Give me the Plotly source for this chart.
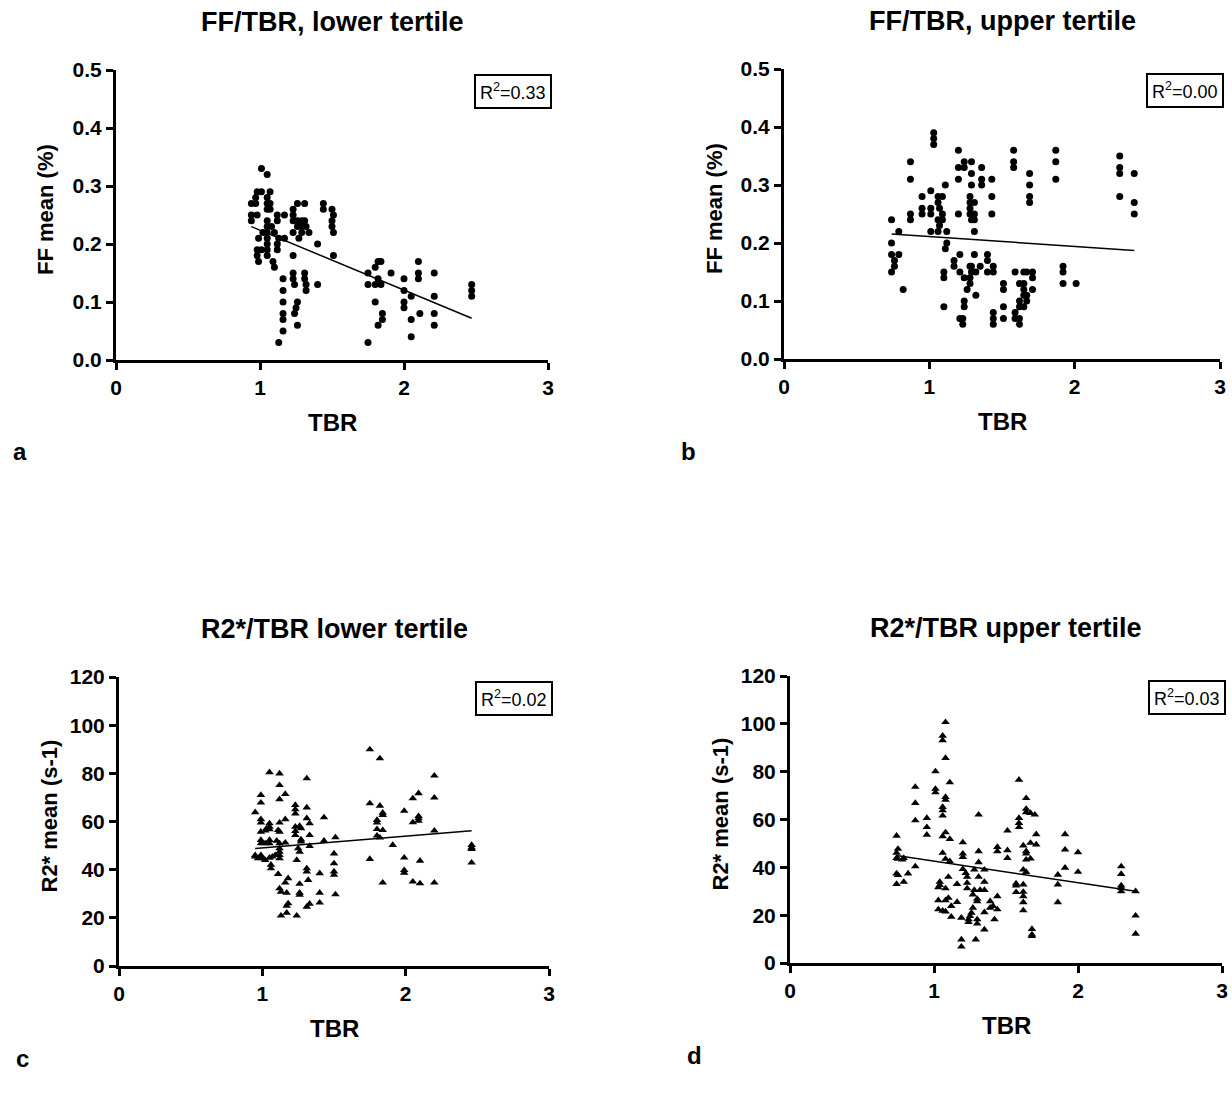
import plotly.graph_objects as go

W, H = 1232, 1099

# ---------------- data ----------------
a_x = [1.01, 1.05, 0.98, 1.01, 1.07, 0.97, 1.05, 0.94, 0.97, 1.05, 1.07, 1.07, 1.05, 1.12, 1.17,
       0.94, 0.98, 0.94, 1.05, 1.12, 1.05, 1.08, 1.02, 1.05, 1.10, 0.99, 1.05, 1.13, 1.17,
       1.05, 1.12, 0.98, 1.01, 1.05, 1.12, 0.98, 1.05, 0.99, 1.09, 1.10,
       1.23, 1.26, 1.31, 1.23, 1.23, 1.26, 1.29, 1.31, 1.26, 1.29, 1.32, 1.23, 1.29, 1.34, 1.27,
       1.44, 1.44, 1.50, 1.51, 1.50, 1.50, 1.51, 1.40, 1.51, 1.23,
       1.16, 1.23, 1.23, 1.24, 1.31, 1.31, 1.32, 1.32, 1.40, 1.16,
       1.16, 1.16, 1.16, 1.16, 1.13, 1.26, 1.25, 1.24, 1.26,
       1.75, 1.75, 1.80, 1.80, 1.80, 1.82, 1.84, 1.82, 1.84, 1.85, 1.85, 1.82, 1.75,
       1.91, 2.00, 2.00, 2.00, 2.00, 2.05, 2.05, 2.05, 2.11, 2.10, 2.10, 2.10,
       2.21, 2.21, 2.21, 2.21, 2.47, 2.47, 2.47]
a_y = [0.33, 0.32, 0.29, 0.29, 0.29, 0.28, 0.28, 0.27, 0.27, 0.27, 0.27, 0.26, 0.26, 0.25, 0.25,
       0.25, 0.25, 0.24, 0.24, 0.24, 0.23, 0.23, 0.22, 0.22, 0.22, 0.21, 0.21, 0.21, 0.21,
       0.20, 0.20, 0.19, 0.19, 0.19, 0.19, 0.18, 0.18, 0.17, 0.17, 0.16,
       0.26, 0.27, 0.27, 0.25, 0.24, 0.24, 0.24, 0.24, 0.23, 0.23, 0.23, 0.22, 0.22, 0.22, 0.21,
       0.27, 0.26, 0.26, 0.25, 0.24, 0.23, 0.22, 0.20, 0.18, 0.18,
       0.14, 0.15, 0.14, 0.13, 0.15, 0.14, 0.13, 0.12, 0.13, 0.12,
       0.10, 0.08, 0.07, 0.05, 0.03, 0.10, 0.09, 0.08, 0.06,
       0.15, 0.13, 0.16, 0.13, 0.10, 0.17, 0.17, 0.14, 0.13, 0.08, 0.07, 0.06, 0.03,
       0.15, 0.14, 0.12, 0.10, 0.09, 0.11, 0.07, 0.04, 0.08, 0.17, 0.15, 0.14,
       0.15, 0.11, 0.08, 0.06, 0.13, 0.12, 0.11]
a_fit_x = [0.94, 2.47]
a_fit_y = [0.230, 0.072]

b_x = [0.74, 0.74, 0.74, 0.74, 0.79, 0.79, 0.76, 0.76, 0.82,
       0.87, 0.87, 0.87, 0.87, 0.95, 0.95, 0.95, 1.01, 1.01, 1.01, 1.01,
       1.03, 1.03, 1.03, 1.06, 1.09, 1.06, 1.07, 1.09, 1.06, 1.09, 1.07, 1.06, 1.12, 1.11,
       1.12, 1.11, 1.10, 1.10, 1.10, 1.20, 1.20, 1.20, 1.20,
       1.24, 1.24, 1.29, 1.29, 1.29, 1.36, 1.36, 1.36, 1.43, 1.43, 1.43,
       1.28, 1.28, 1.31, 1.28, 1.28, 1.31, 1.29, 1.31, 1.31,
       1.17, 1.17, 1.21, 1.21, 1.24, 1.28, 1.28, 1.26, 1.31, 1.29, 1.28, 1.32, 1.29, 1.35,
       1.40, 1.40, 1.40, 1.44, 1.44,
       1.32, 1.24, 1.24, 1.21, 1.23, 1.23, 1.51, 1.51, 1.51, 1.51, 1.44, 1.44, 1.44,
       1.58, 1.58, 1.58, 1.69, 1.69, 1.69, 1.69, 1.87, 1.87, 1.87,
       2.31, 2.31, 2.31, 2.31, 2.41, 2.41, 2.41,
       1.59, 1.65, 1.67, 1.71, 1.71, 1.62, 1.65, 1.65, 1.71, 1.67, 1.65, 1.67, 1.62, 1.62, 1.65,
       1.59, 1.59, 1.62, 1.62, 1.92, 1.92, 1.92, 2.01]
b_y = [0.24, 0.20, 0.18, 0.15, 0.22, 0.18, 0.17, 0.16, 0.12,
       0.34, 0.31, 0.25, 0.24, 0.28, 0.26, 0.25, 0.29, 0.26, 0.25, 0.22,
       0.39, 0.38, 0.37, 0.28, 0.28, 0.27, 0.26, 0.25, 0.24, 0.24, 0.23, 0.22, 0.22, 0.30,
       0.20, 0.19, 0.15, 0.14, 0.09, 0.36, 0.33, 0.31, 0.25,
       0.34, 0.33, 0.34, 0.32, 0.30, 0.33, 0.31, 0.30, 0.31, 0.28, 0.25,
       0.28, 0.27, 0.27, 0.26, 0.25, 0.25, 0.24, 0.24, 0.22,
       0.17, 0.16, 0.18, 0.15, 0.14, 0.14, 0.13, 0.12, 0.18, 0.16, 0.16, 0.15, 0.15, 0.16,
       0.18, 0.17, 0.15, 0.16, 0.15,
       0.11, 0.10, 0.09, 0.07, 0.07, 0.06, 0.13, 0.12, 0.09, 0.07, 0.08, 0.07, 0.06,
       0.36, 0.34, 0.33, 0.32, 0.30, 0.28, 0.27, 0.36, 0.34, 0.31,
       0.35, 0.33, 0.32, 0.28, 0.32, 0.27, 0.25,
       0.15, 0.15, 0.15, 0.15, 0.14, 0.13, 0.13, 0.12, 0.12, 0.11, 0.11, 0.10, 0.10, 0.09, 0.09,
       0.08, 0.07, 0.07, 0.06, 0.16, 0.15, 0.13, 0.13]
b_fit_x = [0.74, 2.41]
b_fit_y = [0.2155, 0.187]

c_x = [1.05, 1.12, 1.31, 1.12, 1.16, 1.12, 0.99, 0.99, 0.95, 1.23, 1.23, 1.23, 1.31, 1.43, 1.16, 1.12, 1.31, 1.33,
       0.99, 0.99, 1.03, 1.05, 1.05, 1.05, 1.11, 1.12, 0.99, 1.02, 1.23, 1.26, 1.27, 1.23, 1.33, 1.23,
       0.99, 0.99, 1.02, 1.05, 1.05, 1.10, 1.12, 1.16, 1.27, 1.27, 1.33, 1.25, 1.26, 1.12, 1.12, 1.43, 1.51,
       0.95, 0.95, 0.97, 1.00, 1.02, 1.05, 1.07, 1.09, 1.12, 1.12, 0.99,
       1.24, 1.50, 1.50, 1.50, 1.50, 1.06, 1.06, 1.31, 1.31, 1.32, 1.40, 1.11, 1.18, 1.16, 1.26, 1.12,
       1.13, 1.17, 1.26, 1.26, 1.40, 1.51, 1.18, 1.17, 1.33, 1.31, 1.40, 1.13, 1.17, 1.24,
       1.75, 1.82, 2.20, 2.09, 2.05, 2.20, 1.75, 1.82, 1.84, 1.84, 1.99, 1.80, 1.80, 2.09, 2.09, 2.09,
       2.05, 1.80, 1.84, 2.20, 1.80, 1.82, 1.91, 2.46, 2.46, 2.46, 1.75, 1.99, 2.10, 2.46, 1.99, 1.99,
       1.84, 2.05, 2.10, 2.20]
c_y = [80.4, 79.9, 77.9, 75.1, 71.4, 69.2, 71.0, 67.8, 63.8, 66.8, 65.0, 63.3, 65.8, 61.7, 60.9, 59.5, 61.3, 59.2,
       60.9, 59.5, 57.1, 59.2, 57.8, 56.7, 56.4, 55.7, 55.7, 56.2, 57.8, 58.1, 57.1, 54.3, 54.3, 56.0,
       52.3, 50.9, 50.9, 52.3, 50.9, 52.0, 50.9, 51.2, 52.5, 51.6, 49.8, 48.8, 47.4, 48.8, 47.4, 52.0, 53.4,
       46.0, 45.4, 44.7, 44.7, 44.0, 44.9, 45.4, 46.0, 46.0, 44.7, 46.0,
       44.0, 46.7, 42.6, 39.2, 37.8, 42.0, 40.5, 40.5, 39.2, 35.7, 38.5, 38.2, 36.4, 34.6, 34.1, 32.2,
       30.8, 30.4, 30.4, 29.5, 30.4, 29.7, 26.0, 25.0, 25.8, 24.6, 26.3, 20.9, 22.1, 20.9,
       89.9, 86.2, 79.0, 71.7, 69.6, 69.9, 67.5, 66.5, 63.6, 62.7, 64.4, 60.6, 59.5, 62.2, 61.3, 60.3,
       59.6, 56.8, 56.4, 56.2, 54.1, 53.3, 50.2, 50.2, 49.2, 48.5, 44.4, 45.0, 43.7, 42.9, 39.8, 38.7,
       34.6, 35.0, 34.3, 34.6]
c_fit_x = [0.95, 2.46]
c_fit_y = [48.8, 56.2]

d_x = [1.08, 1.06, 1.06, 1.08, 1.01, 1.01, 1.01, 1.11, 0.87, 0.87, 0.87, 1.08, 1.08, 1.06, 1.06, 1.06,
       0.95, 0.95, 0.95, 1.31, 1.51, 0.74, 1.08, 1.06, 1.11,
       0.74, 0.75, 0.74, 0.75, 0.78, 0.79, 0.87, 0.74, 0.75, 0.82, 0.79, 0.74,
       1.20, 1.20, 1.20, 1.31, 1.31, 1.44, 1.44, 1.51, 1.51, 1.06, 1.08, 1.11,
       1.20, 1.22, 1.23, 1.23, 1.28, 1.31, 1.35, 1.35, 1.35, 1.10, 1.04, 1.04, 1.03, 1.08, 1.16, 1.23,
       1.28, 1.32, 1.27, 1.30, 1.30,
       1.03, 1.08, 1.10, 1.16, 1.03, 1.06, 1.08, 1.12, 1.12, 1.19, 1.24, 1.25, 1.26, 1.27, 1.30, 1.30,
       1.35, 1.35, 1.39, 1.39, 1.41, 1.44, 1.44, 1.42, 1.24,
       1.19, 1.19, 1.29,
       1.59, 1.64, 1.64, 1.64, 1.67, 1.70, 1.59, 1.59, 1.59, 1.71, 1.67, 1.71, 1.62, 1.64, 1.64, 1.64,
       1.67, 1.62, 1.64, 1.57, 1.57, 1.62, 1.57, 1.62, 1.62, 1.62, 1.62, 1.68, 1.68, 1.68,
       1.91, 1.91, 2.00, 1.91, 2.00, 1.86, 1.86, 1.86,
       2.30, 2.30, 2.30, 2.30, 2.30, 2.40, 2.40, 2.40]
d_y = [100.7, 95.0, 93.1, 85.7, 80.1, 72.8, 71.3, 75.5, 73.6, 66.9, 59.6, 69.4, 68.2, 65.2, 63.8, 61.6,
       60.6, 56.8, 53.6, 62.0, 55.3, 53.2, 54.6, 52.9, 51.8,
       46.0, 47.7, 43.9, 43.5, 43.2, 43.9, 40.4, 37.4, 36.7, 37.4, 33.9, 33.0,
       50.4, 45.7, 44.3, 46.7, 42.1, 48.5, 46.7, 47.1, 43.9, 46.0, 43.5, 42.5,
       39.3, 37.6, 36.0, 33.5, 39.0, 36.0, 39.0, 33.9, 30.5, 36.0, 33.9, 32.6, 31.6, 31.2, 33.0, 31.2,
       30.5, 30.5, 28.6, 26.8, 25.8,
       26.2, 26.2, 27.2, 25.5, 22.4, 21.8, 21.5, 19.3, 23.8, 18.9, 18.2, 19.6, 21.0, 23.1, 18.2, 16.5,
       21.2, 14.0, 25.8, 23.1, 23.8, 27.9, 22.4, 18.2, 17.1,
       9.8, 6.8, 9.8,
       76.6, 68.9, 64.4, 63.0, 62.7, 62.0, 60.6, 58.5, 56.8, 53.8, 50.2, 49.5, 49.1, 46.7, 45.7, 43.2,
       43.6, 39.0, 38.0, 33.2, 32.4, 32.8, 29.6, 29.7, 27.9, 25.4, 22.0, 14.2, 11.9, 11.2,
       53.8, 47.4, 46.3, 39.8, 38.1, 36.9, 32.8, 25.4,
       40.4, 37.2, 32.4, 31.4, 30.0, 30.0, 19.8, 12.2]
d_fit_x = [0.74, 2.40]
d_fit_y = [44.9, 30.0]

titles = ["FF/TBR, lower tertile", "FF/TBR, upper tertile", "R2*/TBR lower tertile", "R2*/TBR upper tertile"]
ytitles = ["FF mean (%)", "FF mean (%)", "R2* mean (s-1)", "R2* mean (s-1)"]
xtitle = "TBR"
r2_labels = ["0.33", "0.00", "0.02", "0.03"]
letters = ["a", "b", "c", "d"]

# ---------------- layout helpers ----------------
FONT = "Liberation Sans, Arial, sans-serif"

def px_x(p):
    return p / W

def px_y(p):
    return 1 - p / H

# pixel boxes of plot areas: (left, right, top, bottom)
boxes = [(116, 548, 70, 360), (784, 1220, 69, 359), (119, 549, 677, 966), (790, 1222, 676, 963)]
yranges = [[0, 0.5], [0, 0.5], [0, 120], [0, 120]]
ydticks = [0.1, 0.1, 20, 20]
yfmt = [".1f", ".1f", "d", "d"]

fig = go.Figure()
panels = [(a_x, a_y, a_fit_x, a_fit_y, "circle"), (b_x, b_y, b_fit_x, b_fit_y, "circle"),
          (c_x, c_y, c_fit_x, c_fit_y, "triangle-up"), (d_x, d_y, d_fit_x, d_fit_y, "triangle-up")]

annotations = []
for i, (xs, ys, fx, fy, sym) in enumerate(panels):
    n = "" if i == 0 else str(i + 1)
    xa, ya = "x" + n, "y" + n
    fig.add_trace(go.Scatter(x=xs, y=ys, mode="markers", xaxis=xa, yaxis=ya,
                             marker=dict(symbol=sym, color="black", size=7 if sym == "circle" else 7.5,
                                         line=dict(width=0)),
                             showlegend=False, cliponaxis=False))
    fig.add_trace(go.Scatter(x=fx, y=fy, mode="lines", xaxis=xa, yaxis=ya,
                             line=dict(color="black", width=1.5), showlegend=False))
    l, r, t, b = boxes[i]
    axis_common = dict(showline=True, linecolor="black", linewidth=3, ticks="outside",
                       ticklen=7, tickwidth=3, tickcolor="black", showgrid=False, zeroline=False,
                       automargin=False,
                       tickfont=dict(family=FONT, size=21, color="black", weight="bold"))
    fig.update_layout(**{
        "xaxis" + n: dict(domain=[px_x(l), px_x(r)], range=[0, 3], dtick=1, anchor=ya, **axis_common),
        "yaxis" + n: dict(domain=[px_y(b), px_y(t)], range=yranges[i], dtick=ydticks[i],
                          tickformat=yfmt[i], anchor=xa, **axis_common),
    })
    cx = (l + r) / 2
    annotations.append(dict(text="<b>" + titles[i] + "</b>", x=px_x(cx), y=px_y(t - 48),
                            xref="paper", yref="paper", showarrow=False,
                            font=dict(family=FONT, size=27, color="black"), xanchor="center", yanchor="middle"))
    annotations.append(dict(text="<b>" + xtitle + "</b>", x=px_x(cx), y=px_y(b + 62),
                            xref="paper", yref="paper", showarrow=False,
                            font=dict(family=FONT, size=24, color="black"), xanchor="center", yanchor="middle"))
    annotations.append(dict(text="<b>" + ytitles[i] + "</b>", x=px_x(l - 70), y=px_y((t + b) / 2 - 5),
                            xref="paper", yref="paper", showarrow=False, textangle=-90,
                            font=dict(family=FONT, size=22, color="black"), xanchor="center", yanchor="middle"))
    annotations.append(dict(text="R<sup>2</sup>=" + r2_labels[i], x=px_x(r + 4), y=px_y(t + 4),
                            xref="paper", yref="paper", showarrow=False,
                            font=dict(family=FONT, size=18, color="black"), xanchor="right", yanchor="top",
                            bordercolor="black", borderwidth=2, borderpad=4, bgcolor="white"))
    annotations.append(dict(text="<b>" + letters[i] + "</b>", x=px_x(l - 105), y=px_y(b + 92),
                            xref="paper", yref="paper", showarrow=False,
                            font=dict(family=FONT, size=24, color="black"), xanchor="left", yanchor="middle"))

fig.update_layout(width=W, height=H, margin=dict(l=0, r=0, t=0, b=0, autoexpand=False),
                  plot_bgcolor="white", paper_bgcolor="white", annotations=annotations)
fig.write_html("out.html", config={"displayModeBar": False},
               post_script="document.body.style.margin='0';document.body.style.overflow='hidden';")
